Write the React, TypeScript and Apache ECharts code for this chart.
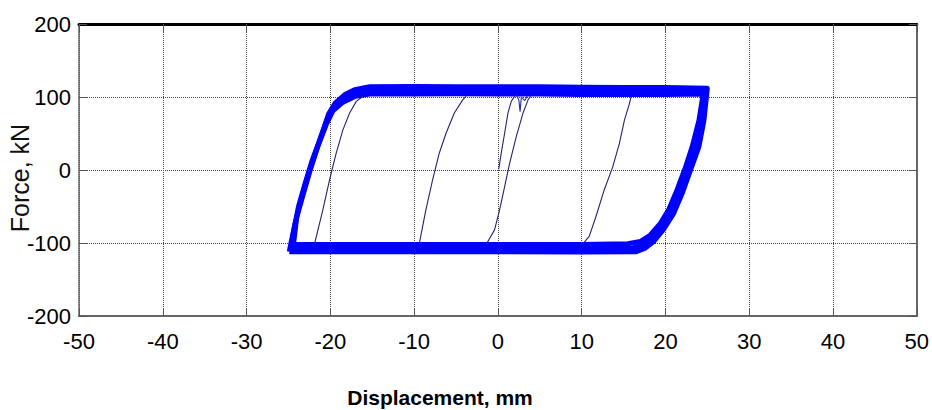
import React, { useEffect, useRef } from "react";
import * as echarts from "echarts";

// Axis ticks
const xTicks = [-50, -40, -30, -20, -10, 0, 10, 20, 30, 40, 50];
const yTicks = [-200, -100, 0, 100, 200];

// Thick blue envelope of the repeated cycles: outer edge, middle, inner edge [displacement mm, force kN]
const envelopeOuter: number[][] = [
  [-24.9, -112], [-24.7, -100], [-24.2, -73], [-23.4, -36], [-22.6, -5], [-21.8, 23], [-21.0, 50],
  [-20.2, 77], [-19.4, 92], [-18.3, 103], [-17.1, 110], [-15.3, 114], [-10, 114.5], [-5, 114],
  [0, 114], [5, 114], [10, 113.5], [15, 113], [20, 113], [25.0, 112],
  [24.6, 68], [24.0, 32], [23.0, 0], [22.0, -32], [21.0, -59], [19.8, -81], [18.6, -98],
  [17.6, -107], [16.5, -112], [10, -112.5], [0, -112], [-10, -112], [-20, -112], [-24.9, -112],
];
const envelopeMid: number[][] = [
  [-24.7, -107], [-24.4, -85], [-23.8, -50], [-23.0, -18], [-22.2, 12], [-21.3, 40], [-20.4, 68],
  [-19.6, 86], [-18.5, 98], [-17.1, 106], [-15.3, 109], [-10, 109], [-5, 109.5], [0, 109],
  [5, 109], [10, 108.5], [15, 108.5], [20, 108], [24.8, 108],
  [24.3, 68], [23.6, 32], [22.7, 2], [21.7, -30], [20.7, -57], [19.6, -77], [18.4, -94],
  [17.3, -103], [16.0, -107], [10, -107.5], [0, -107], [-10, -107], [-20, -107], [-24.7, -107],
];
const envelopeInner: number[][] = [
  [-24.4, -102], [-24.0, -64], [-23.2, -32], [-22.4, 0], [-21.5, 32], [-20.5, 62], [-19.7, 81],
  [-18.6, 92], [-17.0, 101], [-15.3, 104], [-10, 104], [-5, 104.5], [0, 104], [5, 104],
  [10, 103.5], [15, 103.5], [20, 103.5], [24.5, 104],
  [24.0, 68], [23.2, 32], [22.4, 4], [21.4, -27], [20.4, -54], [19.4, -73], [18.2, -89],
  [17.0, -98], [15.5, -101], [10, -102], [0, -102], [-10, -102], [-20, -102], [-24.4, -102],
];

// Thin single-cycle branches
const branchA: number[][] = [[-21.9, -102], [-20.9, -55], [-20.1, -14], [-19.3, 23], [-18.5, 55], [-17.7, 78], [-16.9, 94], [-16.1, 101]];
const branchB: number[][] = [[-9.4, -102], [-8.6, -55], [-7.8, -14], [-7.0, 23], [-6.2, 50], [-5.2, 78], [-4.2, 96], [-3.8, 101]];
const branchC: number[][] = [[0.1, 1], [0.4, 23], [0.8, 50], [1.2, 78], [1.6, 94], [2.0, 101]];
const branchDip: number[][] = [[2.2, 103], [2.5, 96], [2.65, 80], [2.8, 100], [3.2, 95], [3.5, 101]];
const branchD: number[][] = [[-1.4, -102], [-0.4, -82], [0.2, -55], [0.8, -23], [1.4, 9], [2.2, 46], [3.0, 78], [3.6, 96], [3.9, 101]];
const branchE: number[][] = [[10.1, -102], [10.9, -91], [11.7, -64], [12.7, -27], [13.7, 4], [14.5, 36], [15.1, 68], [15.7, 91], [15.9, 101]];

const BLUE = "#0000ff";
const NAVY = "#23236e";
const TICK_FONT = "'Liberation Sans', Arial, sans-serif";

export default function App() {
  const ref = useRef<HTMLDivElement>(null);
  useEffect(() => {
    if (!ref.current) return;
    const chart = echarts.init(ref.current, undefined, { renderer: "svg" });
    const grid = { type: "dotted" as any, color: "#444", width: 1 };
    const band = (data: number[][]) => ({
      type: "line", data, showSymbol: false, silent: true,
      lineStyle: { color: BLUE, width: 5, join: "round" }, itemStyle: { color: BLUE },
    });
    const thin = (data: number[][], color = NAVY) => ({
      type: "line", data, showSymbol: false, silent: true,
      lineStyle: { color, width: 1.1 }, itemStyle: { color },
    });
    chart.setOption({
      animation: false,
      backgroundColor: "#ffffff",
      grid: { left: 79, right: 14, top: 24, bottom: 94 },
      xAxis: [
        {
          type: "value", min: xTicks[0], max: xTicks[xTicks.length - 1], interval: 10,
          axisLine: { show: true, onZero: false, lineStyle: { color: "#666", width: 2 } },
          axisTick: { show: true, inside: true, length: 8, lineStyle: { color: "#555", width: 1 } },
          axisLabel: { color: "#000", fontSize: 22, fontFamily: TICK_FONT, margin: 14 },
          splitLine: { show: true, lineStyle: grid },
        },
        {
          type: "value", position: "top", min: xTicks[0], max: xTicks[xTicks.length - 1], interval: 10,
          axisLine: { show: true, onZero: false, lineStyle: { color: "#000", width: 3 } },
          axisTick: { show: true, inside: true, length: 8, lineStyle: { color: "#555", width: 1 } },
          axisLabel: { show: false }, splitLine: { show: false },
        },
      ],
      yAxis: [
        {
          type: "value", min: yTicks[0], max: yTicks[yTicks.length - 1], interval: 100,
          axisLine: { show: true, onZero: false, lineStyle: { color: "#666", width: 1.5 } },
          axisTick: { show: true, inside: true, length: 8, lineStyle: { color: "#555", width: 1 } },
          axisLabel: { color: "#000", fontSize: 22, fontFamily: TICK_FONT, margin: 8 },
          splitLine: { show: true, lineStyle: grid },
        },
        {
          type: "value", position: "right", min: yTicks[0], max: yTicks[yTicks.length - 1], interval: 100,
          axisLine: { show: true, onZero: false, lineStyle: { color: "#666", width: 2 } },
          axisTick: { show: true, inside: true, length: 8, lineStyle: { color: "#555", width: 1 } },
          axisLabel: { show: false }, splitLine: { show: false },
        },
      ],
      series: [
        band(envelopeOuter),
        band(envelopeMid),
        band(envelopeInner),
        thin(branchA),
        thin(branchB),
        thin(branchC),
        thin(branchDip, "#2a2ab0"),
        thin(branchD),
        thin(branchE),
      ],
      graphic: [
        {
          type: "text", x: 20, y: 178, rotation: Math.PI / 2,
          style: {
            text: "Force, kN", fill: "#111", font: "25px 'Liberation Sans', Arial, sans-serif",
            textAlign: "center", textVerticalAlign: "middle",
          },
        },
        {
          type: "text", x: 440, y: 397,
          style: {
            text: "Displacement, mm", fill: "#000", font: "bold 21px 'Liberation Sans', Arial, sans-serif",
            textAlign: "center", textVerticalAlign: "middle",
          },
        },
      ],
    });
    return () => chart.dispose();
  }, []);
  return <div ref={ref} style={{ position: "absolute", left: 0, top: 0, width: 932, height: 410 }} />;
}
